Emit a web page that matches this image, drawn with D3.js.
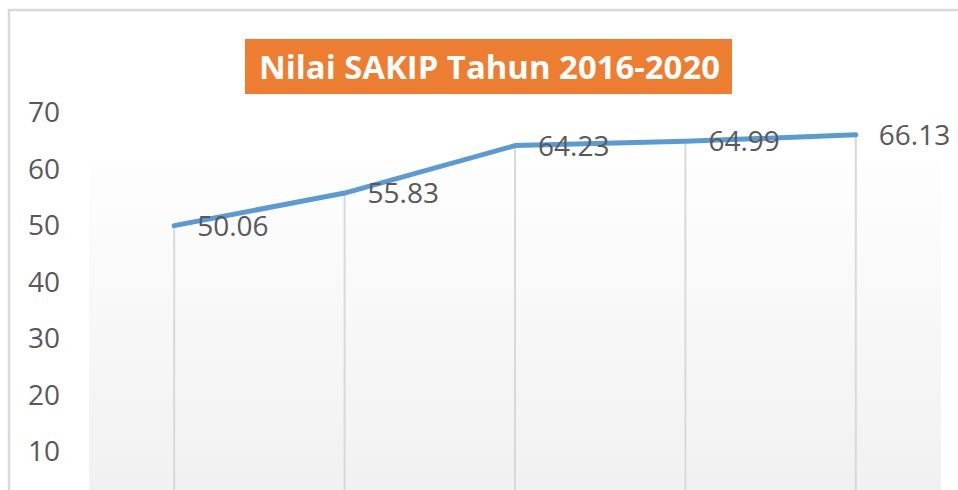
<!DOCTYPE html>
<html>
<head>
<meta charset="utf-8">
<script src="https://cdn.jsdelivr.net/npm/d3@7"></script>
<style>
  body { margin: 0; background: #fff; }
  svg { display: block; }
</style>
</head>
<body>
<div id="chart"></div>
<script>
// data
const years = ["2016", "2017", "2018", "2019", "2020"]
const nilai = [50.06, 55.83, 64.23, 64.99, 66.13]
const yTicks = [10, 20, 30, 40, 50, 60, 70]
const title = "Nilai SAKIP Tahun 2016-2020"

const width = 958
const height = 490

const svg = d3.select("#chart")
  .append("svg")
  .attr("width", width)
  .attr("height", height)

// chart border (top + left only visible)
svg.append("path")
  .attr("d", `M9,${height} V10 H${width}`)
  .attr("fill", "none")
  .attr("stroke", "#d9d9d9")
  .attr("stroke-width", 2.5)

xScale = d3.scaleBand()
  .domain(years)
  .range([89, 941])

yScale = d3.scaleLinear()
  .domain([0, 70])
  .range([508.5, 113])

// plot area gradient
const grad = svg.append("defs").append("linearGradient")
  .attr("id", "plotFill")
  .attr("x1", 0).attr("y1", 0).attr("x2", 0).attr("y2", 1)
grad.append("stop").attr("offset", "0%").attr("stop-color", "#fefefe")
grad.append("stop").attr("offset", "100%").attr("stop-color", "#f1f1f1")

svg.append("rect")
  .attr("x", xScale.range()[0])
  .attr("y", 160)
  .attr("width", xScale.range()[1] - xScale.range()[0])
  .attr("height", height - 160)
  .attr("fill", "url(#plotFill)")

// y axis
const yAxis = d3.axisLeft(yScale)
  .tickValues(yTicks)
  .tickSize(0)
  .tickPadding(0)

svg.append("g")
  .attr("class", "yAxis")
  .attr("transform", "translate(60,0)")
  .call(yAxis)
  .call(g => g.select(".domain").remove())
  .selectAll("text")
    .attr("font-family", "'Open Sans', sans-serif")
    .attr("font-size", 28)
    .attr("fill", "#595959")

const cx = d => xScale(d) + xScale.bandwidth() / 2

// drop lines
svg.selectAll(".drop")
  .data(nilai)
  .join("line")
    .attr("class", "drop")
    .attr("x1", (d, i) => cx(years[i]))
    .attr("x2", (d, i) => cx(years[i]))
    .attr("y1", d => yScale(d))
    .attr("y2", yScale(0))
    .attr("stroke", "#d9d9d9")
    .attr("stroke-width", 2)

// line
const line = d3.line()
  .x((d, i) => cx(years[i]))
  .y(d => yScale(d))

svg.append("path")
  .datum(nilai)
  .attr("d", line)
  .attr("fill", "none")
  .attr("stroke", "#5b9bd5")
  .attr("stroke-width", 5)
  .attr("stroke-linejoin", "round")
  .attr("stroke-linecap", "round")

// value labels
svg.selectAll(".lbl")
  .data(nilai)
  .join("text")
    .attr("class", "lbl")
    .attr("x", (d, i) => cx(years[i]) + 23)
    .attr("y", d => yScale(d))
    .attr("dy", "0.36em")
    .attr("font-family", "'Open Sans', sans-serif")
    .attr("font-size", 28)
    .attr("fill", "#595959")
    .text(d => d.toFixed(2))

// title box
svg.append("rect")
  .attr("x", 245)
  .attr("y", 39)
  .attr("width", 487)
  .attr("height", 55)
  .attr("fill", "#ed7d31")

svg.append("text")
  .attr("x", 259)
  .attr("y", 79)
  .attr("font-family", "'Open Sans', sans-serif")
  .attr("font-weight", "bold")
  .attr("font-size", 32)
  .attr("fill", "#fff")
  .attr("textLength", 461)
  .attr("lengthAdjust", "spacingAndGlyphs")
  .text(title)
</script>
</body>
</html>
